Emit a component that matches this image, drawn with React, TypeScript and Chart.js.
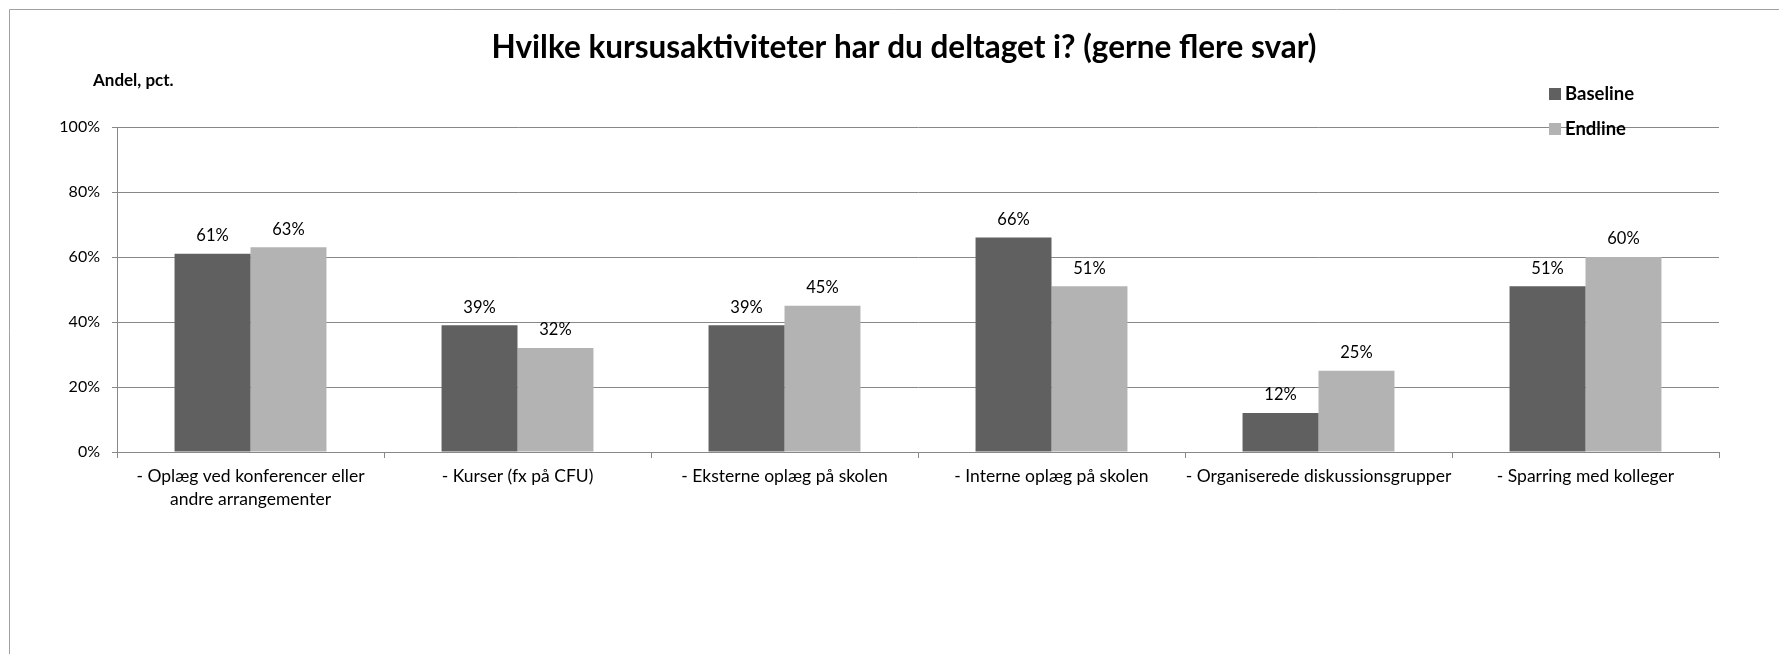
import React, { useEffect, useRef } from "react";
import { Chart, registerables } from "chart.js";

Chart.register(...registerables);

const TITLE = "Hvilke kursusaktiviteter har du deltaget i? (gerne flere svar)";
const Y_AXIS_TITLE = "Andel, pct.";
const categories: string[][] = [
  ["- Oplæg ved konferencer eller", "andre arrangementer"],
  ["- Kurser (fx på CFU)"],
  ["- Eksterne oplæg på skolen"],
  ["- Interne oplæg på skolen"],
  ["- Organiserede diskussionsgrupper"],
  ["- Sparring med kolleger"],
];
const seriesNames = ["Baseline", "Endline"];
const baseline = [61, 39, 39, 66, 12, 51];
const endline = [63, 32, 45, 51, 25, 60];
const seriesColors = ["#606060", "#b3b3b3"];
const yTicks = [0, 20, 40, 60, 80, 100];

const FONT = "Lato, 'Open Sans', sans-serif";

const decorPlugin = {
  id: "decor",
  afterDraw(chart: any) {
    const ctx = chart.ctx;
    ctx.save();
    // outer frame (left + top)
    ctx.strokeStyle = "#a0a0a0";
    ctx.lineWidth = 1;
    ctx.beginPath();
    ctx.moveTo(9.5, chart.height);
    ctx.lineTo(9.5, 9.5);
    ctx.lineTo(chart.width, 9.5);
    ctx.stroke();

    // title
    ctx.fillStyle = "#000";
    ctx.textAlign = "center";
    ctx.textBaseline = "middle";
    ctx.font = `bold 31.5px ${FONT}`;
    ctx.fillText(TITLE, 904, 48);

    // axis title
    ctx.font = `bold 17px ${FONT}`;
    ctx.textAlign = "left";
    ctx.fillText(Y_AXIS_TITLE, 93, 81);

    // legend
    ctx.font = `bold 18.5px ${FONT}`;
    const legendY = [94, 129];
    seriesNames.forEach((name, i) => {
      ctx.fillStyle = seriesColors[i];
      ctx.fillRect(1549, legendY[i] - 6, 12, 12);
      ctx.fillStyle = "#000";
      ctx.fillText(name, 1565, legendY[i]);
    });

    // value labels
    ctx.font = `16.5px ${FONT}`;
    ctx.textAlign = "center";
    chart.data.datasets.forEach((ds: any, di: number) => {
      const meta = chart.getDatasetMeta(di);
      meta.data.forEach((bar: any, i: number) => {
        ctx.fillStyle = "#000";
        ctx.fillText(Math.round(ds.data[i]) + "%", bar.x, bar.y - 18);
      });
    });
    ctx.restore();
  },
};

export default function App() {
  const ref = useRef<HTMLCanvasElement>(null);
  useEffect(() => {
    const chart = new Chart(ref.current!, {
      type: "bar",
      data: {
        labels: categories,
        datasets: [
          { label: seriesNames[0], data: baseline, backgroundColor: seriesColors[0], borderWidth: 0 },
          { label: seriesNames[1], data: endline, backgroundColor: seriesColors[1], borderWidth: 0 },
        ],
      },
      options: {
        animation: false,
        responsive: false,
        devicePixelRatio: 1,
        layout: { padding: { left: 0, right: 60, top: 127, bottom: 0 } },
        plugins: { legend: { display: false }, title: { display: false }, tooltip: { enabled: false } },
        datasets: { bar: { categoryPercentage: 0.569, barPercentage: 1.0 } },
        scales: {
          x: {
            offset: true,
            grid: { display: true, drawOnChartArea: false, drawTicks: true, tickLength: 6, color: "#888", offset: true },
            border: { display: true, color: "#888" },
            ticks: { color: "#000", font: { family: FONT, size: 17.5, lineHeight: 1.29 }, padding: 7, maxRotation: 0, autoSkip: false },
            afterFit(scale: any) { scale.height = 202; },
          },
          y: {
            min: 0,
            max: 100,
            afterBuildTicks(scale: any) { scale.ticks = yTicks.map((v) => ({ value: v })); },
            grid: { color: "#888", tickLength: 5, drawTicks: true },
            border: { display: true, color: "#888" },
            ticks: { color: "#000", font: { family: FONT, size: 16 }, padding: 12, callback: (v: any) => v + "%" },
            afterFit(scale: any) { scale.width = 117; },
          },
        },
      },
      plugins: [decorPlugin],
    });
    return () => chart.destroy();
  }, []);
  return (
    <div style={{ position: "fixed", left: 0, top: 0, width: 1779, height: 654, background: "#fff" }}>
      <canvas ref={ref} width={1779} height={654} style={{ display: "block" }} />
    </div>
  );
}
